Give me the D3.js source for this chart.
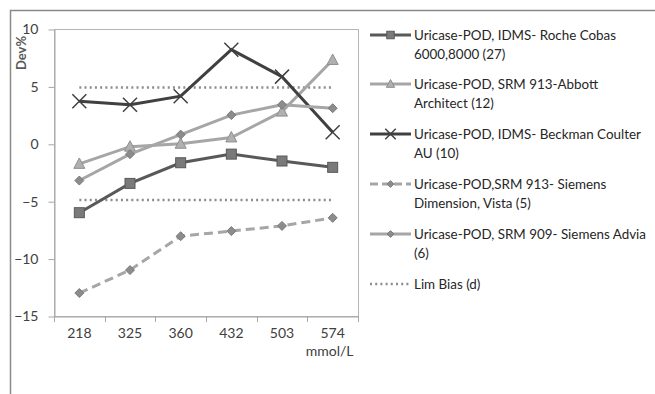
<!DOCTYPE html>
<html>
<head>
<meta charset="utf-8">
<script src="https://cdn.jsdelivr.net/npm/d3@7"></script>
<style>
  body { margin: 0; background: #fff; }
  svg { display: block; font-family: Lato, "Open Sans", sans-serif; }
</style>
</head>
<body>
<div id="svg-area"></div>
<script>
// Dev% per concentration level, one line per method
const categories = ['218', '325', '360', '432', '503', '574'];
const roche = [-6.0, -3.45, -1.65, -0.9, -1.5, -2.05];
const abbott = [-1.75, -0.25, 0.0, 0.55, 2.8, 7.3];
const beckman = [3.7, 3.4, 4.15, 8.2, 5.85, 1.0];
const dimension = [-13.0, -11.0, -8.05, -7.6, -7.15, -6.45];
const advia = [-3.2, -0.9, 0.8, 2.5, 3.4, 3.1];
const limBias = [4.9, -4.9];
const yTicks = [-15, -10, -5, 0, 5, 10];

const seriesNames = [
  ['Uricase-POD, IDMS- Roche Cobas', '6000,8000 (27)'],
  ['Uricase-POD, SRM 913-Abbott', 'Architect (12)'],
  ['Uricase-POD, IDMS- Beckman Coulter', 'AU (10)'],
  ['Uricase-POD,SRM 913- Siemens', 'Dimension, Vista (5)'],
  ['Uricase-POD, SRM 909- Siemens Advia', '(6)'],
  ['Lim Bias (d)']
];

const width = 655;
const height = 394;
const plot = {left: 54, right: 358, top: 29, bottom: 316};

const series = [
  {values: roche, color: '#595959', width: 3, dash: null, marker: 'square', mfill: '#7a7a7a', mstroke: '#595959'},
  {values: abbott, color: '#a6a6a6', width: 3, dash: null, marker: 'triangle', mfill: '#b0b0b0', mstroke: '#8f8f8f'},
  {values: beckman, color: '#404040', width: 3, dash: null, marker: 'cross', mfill: 'none', mstroke: '#404040'},
  {values: dimension, color: '#a6a6a6', width: 3, dash: '9,5', marker: 'diamond', mfill: '#8c8c8c', mstroke: '#7a7a7a'},
  {values: advia, color: '#a6a6a6', width: 3, dash: null, marker: 'diamond', mfill: '#8c8c8c', mstroke: '#7a7a7a'}
];

const x = d3.scaleBand()
  .domain(categories)
  .range([plot.left, plot.right])
  .padding(0);

const y = d3.scaleLinear()
  .domain([-15, 10])
  .range([plot.bottom, plot.top]);

const cx = d => x(d) + x.bandwidth() / 2;

const svg = d3.select('#svg-area').append('svg')
  .attr('width', width).attr('height', height);

// outer frame (left and top edges visible)
svg.append('path')
  .attr('d', `M10.5,${height} V10.5 H${width}`)
  .attr('fill', 'none').attr('stroke', '#8a8a8a').attr('stroke-width', 1.5);

// plot box
svg.append('rect')
  .attr('x', plot.left + 0.5).attr('y', plot.top + 0.5)
  .attr('width', plot.right - plot.left).attr('height', plot.bottom - plot.top)
  .attr('fill', 'none').attr('stroke', '#b5b5b5');

// y axis
const yAxis = g => g
  .attr('transform', `translate(${plot.left + 0.5}, 0.5)`)
  .call(d3.axisLeft(y).tickValues(yTicks).tickSize(6).tickPadding(10).tickSizeOuter(0))
  .call(g => g.select('.domain').attr('stroke', '#a6a6a6'))
  .call(g => g.selectAll('line').attr('stroke', '#a6a6a6'))
  .call(g => g.selectAll('text').attr('font-size', 14).attr('fill', '#404040')
    .attr('font-family', 'Lato, sans-serif'));
svg.append('g').call(yAxis);

// x axis
const xAxis = g => g
  .attr('transform', `translate(0, ${plot.bottom + 0.5})`)
  .call(d3.axisBottom(x).tickSize(0).tickPadding(12).tickSizeOuter(0))
  .call(g => g.select('.domain').attr('stroke', '#a6a6a6'))
  .call(g => g.selectAll('text').attr('font-size', 14).attr('fill', '#404040')
    .attr('font-family', 'Lato, sans-serif'));
svg.append('g').call(xAxis);

// tick marks at band edges
const edges = categories.map(d => x(d)).concat([plot.right]);
svg.append('g').selectAll('line').data(edges).enter().append('line')
  .attr('x1', d => Math.round(d) + 0.5).attr('x2', d => Math.round(d) + 0.5)
  .attr('y1', plot.bottom).attr('y2', plot.bottom + 6)
  .attr('stroke', '#a6a6a6');

svg.append('text')
  .attr('x', cx('574') - 3).attr('y', 356)
  .attr('text-anchor', 'middle')
  .attr('font-size', 14).attr('fill', '#404040')
  .text('mmol/L');

svg.append('text')
  .attr('transform', `translate(26, 53) rotate(-90)`)
  .attr('text-anchor', 'middle')
  .attr('font-size', 13).attr('font-weight', 'bold').attr('fill', '#595959')
  .text('Dev%');

// lim bias dotted lines
svg.append('g').selectAll('line').data(limBias).enter().append('line')
  .attr('x1', cx(categories[0])).attr('x2', cx(categories[categories.length - 1]))
  .attr('y1', d => y(d)).attr('y2', d => y(d))
  .attr('stroke', '#8c8c8c').attr('stroke-width', 2.5)
  .attr('stroke-dasharray', '2,3.2');

function drawMarker(g, s, px, py, size) {
  if (s.marker === 'square') {
    g.append('rect').attr('x', px - size / 2).attr('y', py - size / 2)
      .attr('width', size).attr('height', size)
      .attr('fill', s.mfill).attr('stroke', s.mstroke).attr('stroke-width', 1);
  } else if (s.marker === 'triangle') {
    const h = size * 0.9;
    g.append('path')
      .attr('d', `M${px},${py - h * 0.6} L${px + size / 2},${py + h * 0.45} L${px - size / 2},${py + h * 0.45}Z`)
      .attr('fill', s.mfill).attr('stroke', s.mstroke).attr('stroke-width', 1);
  } else if (s.marker === 'diamond') {
    const r = size / 2;
    g.append('path')
      .attr('d', `M${px},${py - r} L${px + r},${py} L${px},${py + r} L${px - r},${py}Z`)
      .attr('fill', s.mfill).attr('stroke', s.mstroke).attr('stroke-width', 1);
  } else if (s.marker === 'cross') {
    const r = size / 2;
    g.append('path')
      .attr('d', `M${px - r},${py - r} L${px + r},${py + r} M${px + r},${py - r} L${px - r},${py + r}`)
      .attr('stroke', s.mstroke).attr('stroke-width', 1.5);
  }
}

const line = d3.line().x((v, i) => cx(categories[i])).y(v => y(v));
const markerSize = {square: 10, triangle: 11, diamond: 9, cross: 14};

series.forEach(s => {
  const g = svg.append('g');
  g.append('path')
    .attr('d', line(s.values))
    .attr('fill', 'none')
    .attr('stroke', s.color)
    .attr('stroke-width', s.width)
    .attr('stroke-dasharray', s.dash);
  s.values.forEach((v, i) => drawMarker(g, s, cx(categories[i]), y(v), markerSize[s.marker]));
});

// legend
const legendRows = [35, 84, 134, 184, 234, 284];
const legend = svg.append('g');
seriesNames.forEach((name, i) => {
  const ly = legendRows[i];
  const s = series[i];
  if (s) {
    legend.append('line')
      .attr('x1', 370).attr('x2', 411).attr('y1', ly).attr('y2', ly)
      .attr('stroke', s.color).attr('stroke-width', 3)
      .attr('stroke-dasharray', s.dash ? '8,4' : null);
    drawMarker(legend, s, 390.5, ly, markerSize[s.marker] * 0.75);
  } else {
    legend.append('line')
      .attr('x1', 370).attr('x2', 411).attr('y1', ly).attr('y2', ly)
      .attr('stroke', '#8c8c8c').attr('stroke-width', 2.5)
      .attr('stroke-dasharray', '2,3.2');
  }
  const t = legend.append('text')
    .attr('x', 414).attr('y', ly + 5)
    .attr('font-size', 13.4).attr('fill', '#262626');
  name.forEach((part, j) => {
    t.append('tspan').attr('x', 414).attr('dy', j === 0 ? 0 : 19).text(part);
  });
});
</script>
</body>
</html>
